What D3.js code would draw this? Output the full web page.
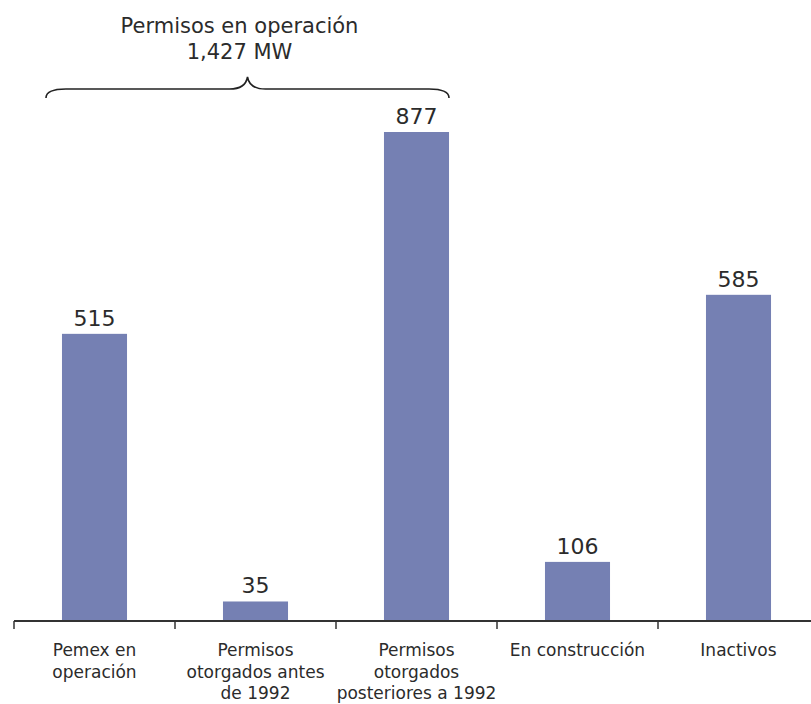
<!DOCTYPE html>
<html>
<head>
<meta charset="utf-8">
<script src="https://cdn.jsdelivr.net/npm/d3@7"></script>
<style>
  html, body { margin: 0; padding: 0; background: #fff; }
  svg text { font-family: "DejaVu Sans", sans-serif; fill: #2b2b2b; }
</style>
</head>
<body>
<svg id="chart" width="811" height="704"></svg>
<script>
const categories = [
  ["Pemex en", "operación"],
  ["Permisos", "otorgados antes", "de 1992"],
  ["Permisos", "otorgados", "posteriores a 1992"],
  ["En construcción"],
  ["Inactivos"]
];
const categoryKeys = ["pemex", "antes1992", "post1992", "construccion", "inactivos"];
const values = [515, 35, 877, 106, 585];
const titleLines = ["Permisos en operación", "1,427 MW"];

const svg = d3.select("#chart");
const baseY = 621;
const x = d3.scaleBand().domain(categoryKeys).range([14, 14 + 161 * 5]).padding(0);
const y = d3.scaleLinear().domain([0, 877]).range([baseY, 132]);
const barW = x.bandwidth() * 0.404;
const barX = k => x(k) + (x.bandwidth() - barW) / 2;
const color = "#7580b3";

// bars
svg.selectAll("rect.bar").data(values).enter().append("rect")
  .attr("class", "bar")
  .attr("x", (d, i) => barX(categoryKeys[i]))
  .attr("width", barW)
  .attr("y", d => y(d))
  .attr("height", d => baseY - y(d))
  .attr("fill", color);

// value labels
svg.selectAll("text.val").data(values).enter().append("text")
  .attr("class", "val")
  .attr("x", (d, i) => x(categoryKeys[i]) + x.bandwidth() / 2)
  .attr("y", d => y(d) - 8)
  .attr("text-anchor", "middle")
  .style("font-size", "22px")
  .text(d => d);

// axis
svg.append("line").attr("x1", 14).attr("x2", 811).attr("y1", baseY).attr("y2", baseY)
  .attr("stroke", "#333").attr("stroke-width", 2);
svg.selectAll("line.tk").data(categoryKeys).enter().append("line")
  .attr("class", "tk")
  .attr("x1", d => x(d)).attr("x2", d => x(d))
  .attr("y1", baseY).attr("y2", baseY + 8)
  .attr("stroke", "#333").attr("stroke-width", 1.5);

// category labels
categories.forEach((lines, i) => {
  const cx = x(categoryKeys[i]) + x.bandwidth() / 2;
  const t = svg.append("text").attr("text-anchor", "middle").style("font-size", "17px");
  lines.forEach((ln, j) => {
    t.append("tspan").attr("x", cx).attr("y", 656 + j * 21.5).text(ln);
  });
});

// brace
const bl = barX(categoryKeys[0]) - 16;
const br = barX(categoryKeys[2]) + barW;
const bc = (bl + br) / 2;
const yTop = 77, yMid = 89, yEnd = 98;
const p = d3.path();
p.moveTo(bl, yEnd);
p.quadraticCurveTo(bl, yMid, bl + 20, yMid);
p.lineTo(bc - 18, yMid);
p.quadraticCurveTo(bc - 2, yMid, bc, yTop);
p.quadraticCurveTo(bc + 2, yMid, bc + 18, yMid);
p.lineTo(br - 20, yMid);
p.quadraticCurveTo(br, yMid, br, yEnd);
svg.append("path").attr("d", p.toString()).attr("fill", "none")
  .attr("stroke", "#222").attr("stroke-width", 1.6);

// title
const tt = svg.append("text").attr("text-anchor", "middle").style("font-size", "21px");
titleLines.forEach((ln, j) => {
  tt.append("tspan").attr("x", bc - 8).attr("y", 33 + j * 26).text(ln);
});
</script>
</body>
</html>
